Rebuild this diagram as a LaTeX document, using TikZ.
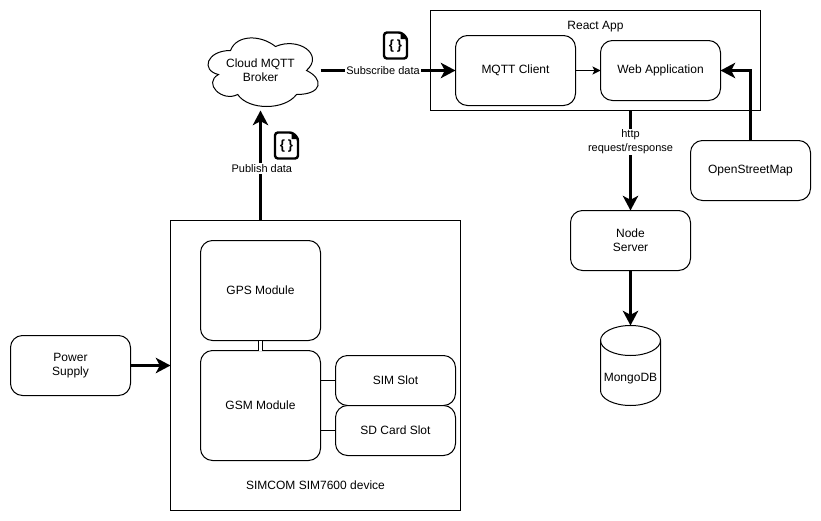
\documentclass[tikz,border=0pt]{standalone}
\usepackage{fontspec}
\setmainfont{Liberation Sans}
\usetikzlibrary{arrows.meta,calc}
\tikzset{
  x=0.75pt,y=-0.75pt,
  sz/.style 2 args={minimum width=#1*0.75pt,minimum height=#2*0.75pt,inner sep=0pt,outer sep=0pt,align=center,font=\fontsize{9}{10.5}\selectfont},
  rbox/.style={draw=black,line width=0.75pt,rounded corners=9pt,fill=white},
  sbox/.style={draw=black,line width=0.75pt,fill=white},
  thin line/.style={draw=black,line width=0.75pt},
  thick arrow/.style={draw=black,line width=2.25pt,-{Stealth[length=11pt,width=11.5pt,inset=3pt]}},
  small arrow/.style={draw=black,line width=0.75pt,-{Stealth[length=6pt,width=6pt,inset=1.5pt]}},
  link line/.style={draw=black,line width=0.75pt,double=white,double distance=2.25pt},
  edge label/.style={fill=white,inner sep=1pt,align=center,font=\fontsize{8.25}{10.5}\selectfont},
  plain label/.style={inner sep=0pt,align=center,font=\fontsize{9}{10.5}\selectfont},
  doc icon/.pic={
    \draw[line width=1.8pt,line join=round,rounded corners=2.2pt] (-11.5,-13) -- (6,-13) -- (11.5,-7.5) -- (11.5,13) -- (-11.5,13) -- cycle;
    \fill[black] (5,-14) -- (12.5,-6.5) -- (5,-6.5) -- cycle;
    \node[inner sep=0pt,font=\bfseries\fontsize{10}{11}\selectfont] at (0,0.5) {\{\kern2pt\}};
  },
}
\begin{document}
\begin{tikzpicture}
\useasboundingbox[fill=white] (-0.5,-0.5) rectangle (820.5,520.5);
% containers
\node[sbox,sz={330}{100}] (react) at (595,60) {};
\node[plain label] (reactlabel) at (595,26) {React App};
\node[sbox,sz={290}{290}] (simcom) at (315,365) {};
\node[plain label] (simlabel) at (315,485) {SIMCOM SIM7600 device};
% cloud
\draw[line width=0.75pt,fill=white]
  (230,50) .. controls (206,50) and (200,70) .. (218,74)
  .. controls (202,82.8) and (221.6,102) .. (237.2,94)
  .. controls (248,110) and (284,110) .. (296,94)
  .. controls (323,94) and (323,78) .. (306,70)
  .. controls (324,54) and (298,36) .. (275,46)
  .. controls (260,34) and (236,34) .. (230,50) -- cycle;
\node[sz={120}{80}] (cloud) at (260,70) {Cloud MQTT\\Broker};
% boxes
\node[rbox,sz={120}{70}] (mqtt) at (515,70) {MQTT Client};
\node[rbox,sz={120}{60}] (web) at (660,70) {Web Application};
\node[rbox,sz={120}{60}] (osm) at (750,170) {OpenStreetMap};
\node[rbox,sz={120}{60}] (nodesrv) at (630,240) {Node\\Server};
\node[rbox,sz={120}{100}] (gps) at (260,290) {GPS Module};
\node[rbox,sz={120}{110}] (gsm) at (260,405) {GSM Module};
\node[rbox,sz={120}{50}] (sim) at (395,380) {SIM Slot};
\node[rbox,sz={120}{50}] (sd) at (395,430) {SD Card Slot};
\node[rbox,sz={120}{60}] (power) at (70,365) {Power\\Supply};
% database
\draw[line width=0.75pt,fill=white]
  (600,340) arc[start angle=180,end angle=0,x radius=30,y radius=-15]
  -- (660,390) arc[start angle=0,end angle=-180,x radius=30,y radius=-15] -- cycle;
\draw[line width=0.75pt] (600,340) arc[start angle=180,end angle=360,x radius=30,y radius=-15];
\node[sz={60}{80}] (mongo) at (630,365) {};
\node[plain label] (mongolabel) at (630,378) {MongoDB};
% connectors
\draw[thick arrow] (cloud.east) -- node[edge label,pos=0.463] (sublabel) {Subscribe data} (mqtt.west);
\draw[thick arrow] (cloud.south |- simcom.north) -- node[edge label,pos=0.47,xshift=1pt] (publabel) {Publish data} (cloud.south);
\draw[small arrow] (mqtt.east |- web.west) -- (web.west);
\draw[thick arrow] (nodesrv.north |- react.south) -- node[edge label,pos=0.315] (httplabel) {http\\request/response} (nodesrv.north);
\draw[thick arrow] (osm.north) |- (web.east);
\draw[thick arrow] (nodesrv.south) -- (mongo.north);
\draw[thick arrow] (power.east) -- (power.east -| simcom.west);
\draw[link line] (gps.south) -- (gsm.north);
\draw[thin line] (sim.west -| gsm.east) -- (sim.west);
\draw[thin line] (sd.west -| gsm.east) -- (sd.west);
% data icons
\pic at (395,45) {doc icon};
\pic at (286,145) {doc icon};
\end{tikzpicture}
\end{document}
